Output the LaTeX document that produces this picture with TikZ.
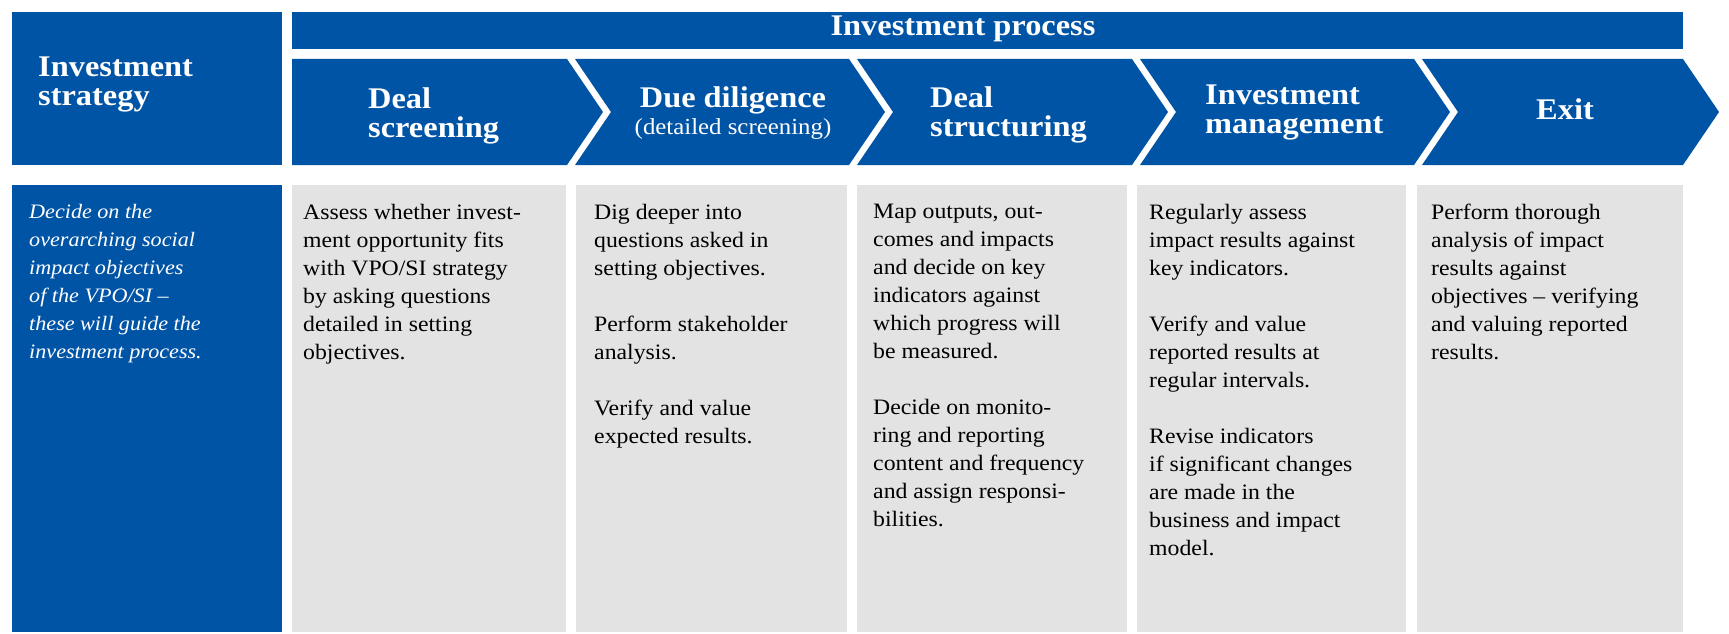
\documentclass[tikz,border=0pt]{standalone}
\usepackage{fontspec}
\setmainfont{Liberation Serif}[FakeStretch=1.08]
\usepackage{xcolor}
\usetikzlibrary{positioning,calc}
\definecolor{procblue}{RGB}{0,84,165}
\definecolor{cellgray}{RGB}{227,227,227}

\begin{document}
\begin{tikzpicture}[x=1pt,y=-1pt,
	head/.style={text=white,font=\fontsize{30}{29}\selectfont\bfseries,align=left,inner sep=0pt},
	body/.style={text=black,font=\fontsize{22}{28}\selectfont,align=left,inner sep=0pt,anchor=north west}]
	\useasboundingbox (0,0) rectangle (1729,634);
	\fill[procblue] (12,12) rectangle (282,165);
	\fill[procblue] (292,12) rectangle (1683,49);
	\foreach \xl/\xr/\nl in {292/567/0,575/849/36,857/1132/36,1140/1414/36,1422/1683/36} {
		\fill[procblue] (\xl,59) -- (\xr,59) -- (\xr+36,112) -- (\xr,165) -- (\xl,165) -- (\xl+\nl,112) -- cycle;
	}
	\fill[procblue] (12,185) rectangle (282,632);
	\foreach \xl/\xr in {292/566,576/847,857/1127,1137/1406,1417/1683} {
		\fill[cellgray] (\xl,185) rectangle (\xr,632);
	}
	\node[head,anchor=north west] (strat) at (38,57) {Investment\\strategy};
	\node[head,anchor=north] (proc) at (963,16) {Investment process};
	\node[head,anchor=north west] (screen) at (368,87) {Deal\\screening};
	\node[head,anchor=north,align=center] (dilig) at (733,86) {Due diligence\\[-2pt]{\fontsize{23}{28}\selectfont\mdseries(detailed screening)}};
	\node[head,anchor=north west] (struct) at (930,86) {Deal\\structuring};
	\node[head,anchor=north west] (manag) at (1205,85) {Investment\\management};
	\node[head,anchor=base] (exit) at (1565,119) {Exit};
	\node[body,text=white,font=\fontsize{20.5}{28}\selectfont\itshape] (txtS) at (29,204) {Decide on the\\overarching social\\impact objectives\\of the VPO/SI --\\these will guide the\\investment process.};
	\node[body] (txtA) at (303,204) {Assess whether invest-\\ment opportunity fits\\with VPO/SI strategy\\by asking questions\\detailed in setting\\objectives.};
	\node[body] (txtB) at (594,204) {Dig deeper into\\questions asked in\\setting objectives.\\[28pt]Perform stakeholder\\analysis.\\[28pt]Verify and value\\expected results.};
	\node[body] (txtC) at (873,204) {Map outputs, out-\\comes and impacts\\and decide on key\\indicators against\\which progress will\\be measured.\\[28pt]Decide on monito-\\ring and reporting\\content and frequency\\and assign responsi-\\bilities.};
	\node[body] (txtD) at (1149,204) {Regularly assess\\impact results against\\key indicators.\\[28pt]Verify and value\\reported results at\\regular intervals.\\[28pt]Revise indicators\\if significant changes\\are made in the\\business and impact\\model.};
	\node[body] (txtE) at (1431,204) {Perform thorough\\analysis of impact\\results against\\objectives -- verifying\\and valuing reported\\results.};
\end{tikzpicture}
\end{document}
